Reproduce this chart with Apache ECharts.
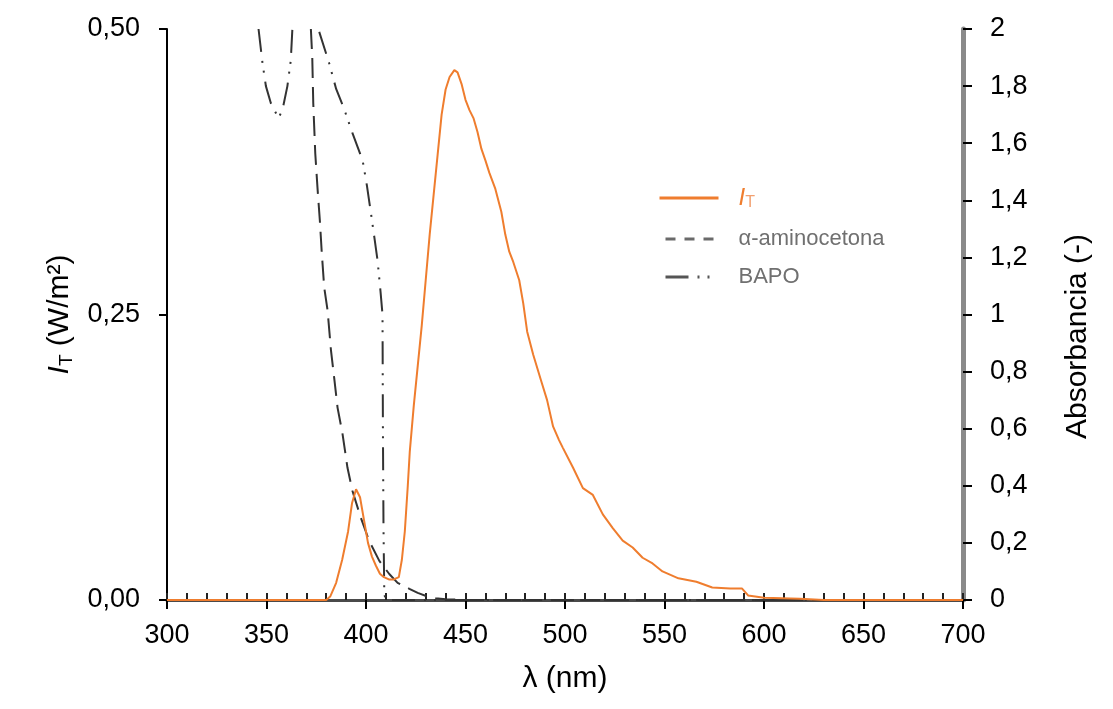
<!DOCTYPE html>
<html>
<head>
<meta charset="utf-8">
<script src="https://cdn.jsdelivr.net/npm/echarts@6/dist/echarts.min.js"></script>
<style>html,body{margin:0;padding:0;background:#fff}#c{width:1113px;height:709px}</style>
</head>
<body>
<div id="c"></div>
<script>
// ---- data ----
const itNm  = [300, 380, 382, 385, 388, 391, 393, 395, 397, 399, 401, 403, 405, 407, 409, 411.5, 414, 416.5, 418, 419.5, 421, 422, 424, 426, 428, 430, 432, 434, 436, 438, 440, 442, 444.4, 446, 448, 450, 452, 454, 456, 458, 460, 462, 465, 468, 470, 472, 474, 477, 479, 481, 484, 488, 491, 494, 497, 499, 504, 509, 514, 519, 524, 529, 534, 539, 544, 549, 557, 566, 574, 583, 589, 592, 600, 618, 630, 700];
const itVal = [0, 0, 0.003, 0.015, 0.035, 0.06, 0.085, 0.097, 0.09, 0.07, 0.05, 0.038, 0.03, 0.023, 0.02, 0.018, 0.018, 0.02, 0.035, 0.06, 0.1, 0.13, 0.17, 0.205, 0.24, 0.28, 0.32, 0.355, 0.39, 0.425, 0.447, 0.458, 0.464, 0.462, 0.452, 0.438, 0.429, 0.422, 0.41, 0.395, 0.385, 0.374, 0.36, 0.34, 0.32, 0.305, 0.296, 0.28, 0.26, 0.235, 0.215, 0.192, 0.175, 0.152, 0.14, 0.133, 0.116, 0.098, 0.092, 0.075, 0.063, 0.052, 0.046, 0.037, 0.032, 0.025, 0.019, 0.016, 0.011, 0.01, 0.01, 0.004, 0.002, 0.001, 0, 0];

const amNm  = [372.3, 373, 373.5, 374.5, 375.6, 376.8, 377.8, 379, 380.7, 382.4, 384, 385.7, 388.2, 390.7, 393.2, 397.4, 401.6, 406.7, 411.7, 415.9, 421.8, 426, 430.2, 435, 440, 450, 700];
const amAbs = [2.0, 1.9, 1.74, 1.565, 1.446, 1.33, 1.214, 1.095, 1.014, 0.874, 0.779, 0.674, 0.582, 0.463, 0.382, 0.288, 0.207, 0.137, 0.091, 0.06, 0.039, 0.025, 0.014, 0.006, 0.003, 0, 0];

const bapoNm  = [346, 348, 349.7, 352.2, 356, 358, 360.5, 362.2, 363, 370, 376.5, 381.5, 385, 389, 393.2, 398.3, 400.5, 402.5, 404.2, 405.8, 407.3, 408.3, 408.5, 408.8, 409.2, 410, 700];
const bapoAbs = [2.0, 1.88, 1.80, 1.74, 1.688, 1.716, 1.80, 1.89, 2.0, null, 1.99, 1.88, 1.79, 1.72, 1.635, 1.54, 1.45, 1.354, 1.27, 1.19, 1.08, 1.0, 0.6, 0.25, 0.02, 0, 0];

const leftTicks  = [0, 0.25, 0.5];
const rightTicks = [0, 0.2, 0.4, 0.6, 0.8, 1, 1.2, 1.4, 1.6, 1.8, 2];
const xTicks     = [300, 350, 400, 450, 500, 550, 600, 650, 700];

// ---- styling ----
const REG = "'Liberation Sans',Arial,sans-serif";
const ORANGE = '#EF7D2E';
const pair = (xs, ys) => xs.map((x, i) => [x, ys[i] === null ? '-' : ys[i]]);

const chart = echarts.init(document.getElementById('c'), null, {renderer: 'canvas'});
chart.setOption({
  animation: false,
  backgroundColor: '#fff',
  grid: {left: 167, right: 150, top: 29, bottom: 109, containLabel: false},
  xAxis: [{
    type: 'value', min: xTicks[0], max: xTicks[xTicks.length - 1], interval: 50,
    name: 'λ (nm)', nameLocation: 'middle', nameGap: 64,
    nameTextStyle: {fontFamily: REG, fontSize: 30, color: '#000'},
    axisLine: {show: true, onZero: false, lineStyle: {color: '#4a4a4a', width: 3}},
    axisTick: {show: true, inside: false, length: 9, lineStyle: {color: '#000', width: 2}},
    axisLabel: {fontFamily: REG, fontSize: 27, color: '#000', margin: 22, showMinLabel: true, showMaxLabel: true},
    splitLine: {show: false}
  }, {
    type: 'value', min: 300, max: 700, interval: 10, position: 'bottom',
    axisLine: {show: false},
    axisTick: {show: true, inside: true, length: 7, lineStyle: {color: '#222', width: 2}},
    axisLabel: {show: false},
    splitLine: {show: false}
  }],
  yAxis: [{
    type: 'value', min: leftTicks[0], max: leftTicks[leftTicks.length - 1], interval: 0.25, position: 'left',
    name: '{i|I}{t|T}{n| (W/m²)}', nameLocation: 'middle', nameGap: 80, nameRotate: 90,
    nameTextStyle: {
      fontFamily: REG, fontSize: 30, color: '#000',
      rich: {
        i: {fontFamily: REG, fontSize: 30, fontStyle: 'italic', color: '#000', lineHeight: 34},
        t: {fontFamily: REG, fontSize: 19, color: '#000', verticalAlign: 'bottom', lineHeight: 34},
        n: {fontFamily: REG, fontSize: 30, color: '#000', lineHeight: 34}
      }
    },
    axisLine: {show: true, onZero: false, lineStyle: {color: '#000', width: 2}},
    axisTick: {show: true, inside: false, length: 8, lineStyle: {color: '#000', width: 2}},
    axisLabel: {fontFamily: REG, fontSize: 27, color: '#000', margin: 27,
      formatter: v => v.toFixed(2).replace('.', ',')},
    splitLine: {show: false}
  }, {
    type: 'value', min: rightTicks[0], max: rightTicks[rightTicks.length - 1], interval: 0.2, position: 'right',
    name: 'Absorbancia (-)', nameLocation: 'middle', nameGap: 100, nameRotate: 90,
    nameTextStyle: {fontFamily: REG, fontSize: 30, color: '#000', padding: [0, 44, 0, 0]},
    axisLine: {show: true, onZero: false, lineStyle: {color: '#8a8a8a', width: 5}},
    axisTick: {show: true, inside: false, length: 9, lineStyle: {color: '#000', width: 2}},
    axisLabel: {fontFamily: REG, fontSize: 27, color: '#000', margin: 27,
      formatter: v => String(Math.round(v * 10) / 10).replace('.', ',')},
    splitLine: {show: false}
  }],
  legend: [{
    data: ['IT'], left: 658, top: 186, orient: 'vertical', selectedMode: false, padding: 0,
    itemWidth: 59, itemHeight: 14,
    lineStyle: {width: 3},
    itemStyle: {opacity: 0},
    formatter: () => '{i|I}{t|T}',
    textStyle: {padding: [0, 0, 0, 15], rich: {
      i: {fontFamily: REG, fontSize: 24, fontStyle: 'italic', color: ORANGE, lineHeight: 26},
      t: {fontFamily: REG, fontSize: 16, color: '#F2A070', verticalAlign: 'bottom', lineHeight: 26}
    }}
  }, {
    data: ['α-aminocetona'], left: 664, top: 226, orient: 'vertical', selectedMode: false, padding: 0,
    itemWidth: 53, itemHeight: 14,
    lineStyle: {width: 3, color: '#6a6a6a', type: [10, 9]},
    itemStyle: {opacity: 0},
    textStyle: {fontFamily: REG, fontSize: 22, lineHeight: 26, color: '#707070', padding: [0, 0, 0, 15]}
  }, {
    data: ['BAPO'], left: 664, top: 264, orient: 'vertical', selectedMode: false, padding: 0,
    itemWidth: 53, itemHeight: 14,
    lineStyle: {width: 3, color: '#555'},
    itemStyle: {opacity: 0},
    textStyle: {fontFamily: REG, fontSize: 22, lineHeight: 26, color: '#707070', padding: [0, 0, 0, 15]}
  }],
  series: [{
    name: 'IT', type: 'line', xAxisIndex: 0, yAxisIndex: 0, symbol: 'none', clip: true,
    data: pair(itNm, itVal),
    lineStyle: {color: ORANGE, width: 2}, itemStyle: {color: ORANGE}, z: 3
  }, {
    name: 'α-aminocetona', type: 'line', xAxisIndex: 0, yAxisIndex: 1, symbol: 'none', clip: true,
    data: pair(amNm, amAbs),
    lineStyle: {color: '#333', width: 2, type: [20, 9]}, itemStyle: {color: '#333'}, z: 2
  }, {
    name: 'BAPO', type: 'line', xAxisIndex: 0, yAxisIndex: 1, symbol: 'none', clip: true,
    connectNulls: false,
    data: pair(bapoNm, bapoAbs),
    lineStyle: {color: '#333', width: 2, type: [23, 9, 2, 8, 2, 9]}, itemStyle: {color: '#333'}, z: 2
  }]
});
</script>
</body>
</html>
